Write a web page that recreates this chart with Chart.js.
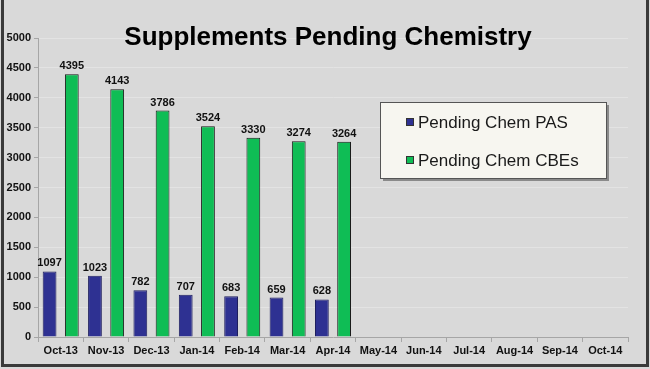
<!DOCTYPE html>
<html>
<head>
<meta charset="utf-8">
<script src="https://cdn.jsdelivr.net/npm/chart.js@4.4.0/dist/chart.umd.min.js"></script>
<style>
  html, body { margin: 0; padding: 0; background: #d9d9d9; }
  canvas { display: block; }
</style>
</head>
<body>
<canvas id="chart" width="650" height="369"></canvas>
<script>
// chart data
const months = ['Oct-13', 'Nov-13', 'Dec-13', 'Jan-14', 'Feb-14', 'Mar-14', 'Apr-14',
                'May-14', 'Jun-14', 'Jul-14', 'Aug-14', 'Sep-14', 'Oct-14'];
const pendingPAS = [1097, 1023, 782, 707, 683, 659, 628, null, null, null, null, null, null];
const pendingCBEs = [4395, 4143, 3786, 3524, 3330, 3274, 3264, null, null, null, null, null, null];
const yTicks = [0, 500, 1000, 1500, 2000, 2500, 3000, 3500, 4000, 4500, 5000];

const FONT = '"Liberation Sans", Arial, sans-serif';

// background + outer frame
const framePlugin = {
    id: 'frame',
    beforeDraw: (chart) => {
        const c = chart.ctx;
        c.save();
        c.fillStyle = '#d9d9d9';
        c.fillRect(0, 0, chart.width, chart.height);
        c.restore();
    },
    afterDraw: (chart) => {
        const c = chart.ctx;
        c.save();
        c.fillStyle = '#3a3a3a';
        c.fillRect(1, 0, 3, 367);
        c.fillRect(1, 364, 648, 3);
        c.fillRect(646, 0, 3, 367);
        c.restore();
    }
};

// values above bars
const labelsPlugin = {
    id: 'barLabels',
    afterDatasetsDraw: (chart) => {
        const c = chart.ctx;
        c.save();
        c.font = 'bold 11px ' + FONT;
        c.fillStyle = '#111';
        c.textAlign = 'center';
        c.textBaseline = 'alphabetic';
        chart.data.datasets.forEach((ds, i) => {
            chart.getDatasetMeta(i).data.forEach((bar, j) => {
                if (ds.data[j] == null) return;
                c.fillText(ds.data[j], bar.x, bar.y - 5);
            });
        });
        c.restore();
    }
};

// title drawn over the plot
const titlePlugin = {
    id: 'overTitle',
    afterDraw: (chart) => {
        const c = chart.ctx;
        c.save();
        c.font = 'bold 26px ' + FONT;
        c.fillStyle = '#000';
        c.textAlign = 'center';
        c.fillText('Supplements Pending Chemistry', 328, 45);
        c.restore();
    }
};

// boxed legend on the right
const legendPlugin = {
    id: 'boxLegend',
    afterDraw: (chart) => {
        const c = chart.ctx;
        const x = 380, y = 102, w = 226, h = 76;
        c.save();
        c.fillStyle = '#8a8a8a';
        c.fillRect(x + 3, y + 3, w, h);
        c.fillStyle = '#f7f6f0';
        c.fillRect(x, y, w, h);
        c.strokeStyle = '#555';
        c.lineWidth = 1;
        c.strokeRect(x + 0.5, y + 0.5, w, h);
        c.font = '17px ' + FONT;
        c.textBaseline = 'middle';
        const rows = [122, 160];
        chart.data.datasets.forEach((ds, i) => {
            c.fillStyle = ds.backgroundColor;
            c.fillRect(406, rows[i] - 4, 8, 8);
            c.strokeStyle = '#333';
            c.strokeRect(406.5, rows[i] - 3.5, 7, 7);
            c.fillStyle = '#1a1a1a';
            c.fillText(ds.label, 418, rows[i] + 1);
        });
        c.restore();
    }
};

new Chart(document.getElementById('chart'), {
    type: 'bar',
    data: {
        labels: months,
        datasets: [
            {
                label: 'Pending Chem PAS',
                data: pendingPAS,
                backgroundColor: '#2e3192',
                borderColor: '#1f1f5e',
                borderWidth: 1
            },
            {
                label: 'Pending Chem CBEs',
                data: pendingCBEs,
                backgroundColor: '#0fbd55',
                borderColor: '#1a1a1a',
                borderWidth: 1
            }
        ]
    },
    options: {
        responsive: false,
        animation: false,
        categoryPercentage: 0.98,
        barPercentage: 0.62,
        layout: { padding: { left: 0, top: 38, right: 22, bottom: 0 } },
        plugins: {
            legend: { display: false },
            title: { display: false },
            tooltip: { enabled: false }
        },
        scales: {
            x: {
                offset: true,
                grid: {
                    offset: true,
                    drawOnChartArea: false,
                    drawTicks: true,
                    tickLength: 5,
                    color: '#a6a6a6'
                },
                border: { color: '#a6a6a6', width: 1 },
                ticks: {
                    font: { family: FONT, size: 11, weight: 'bold' },
                    color: '#111',
                    padding: 2,
                    maxRotation: 0,
                    autoSkip: false
                },
                afterFit: (scale) => { scale.height = 32; }
            },
            y: {
                min: 0,
                max: 5000,
                afterBuildTicks: (scale) => {
                    scale.ticks = yTicks.map(v => ({ value: v }));
                },
                grid: {
                    color: '#e3e3e3',
                    tickColor: '#a6a6a6',
                    tickLength: 4,
                    drawTicks: true
                },
                border: { color: '#a6a6a6', width: 1 },
                ticks: {
                    font: { family: FONT, size: 11, weight: 'bold' },
                    color: '#111',
                    padding: 3,
                    callback: (v) => String(v)
                },
                afterFit: (scale) => { scale.width = 38; }
            }
        }
    },
    plugins: [framePlugin, labelsPlugin, titlePlugin, legendPlugin]
});
</script>
</body>
</html>
